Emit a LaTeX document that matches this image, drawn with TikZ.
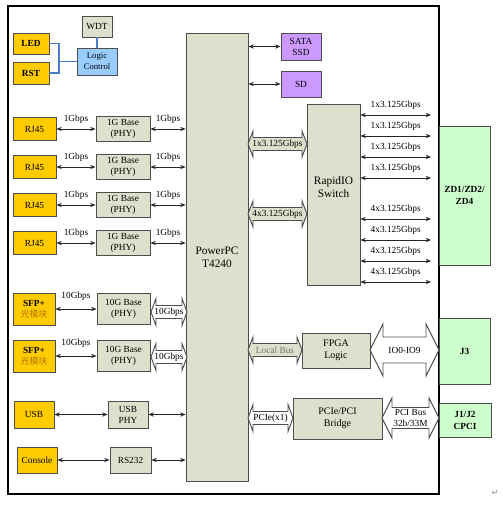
\documentclass[tikz,border=0pt]{standalone}
\usepackage{fontspec}
\setmainfont{Liberation Serif}
\newfontfamily\cjk{Noto Sans CJK SC}
\newfontfamily\dejavu{DejaVu Sans}
\usetikzlibrary{arrows.meta}
\definecolor{boxfill}{HTML}{DDE0CC}
\definecolor{orangefill}{HTML}{FFCC00}
\definecolor{purplefill}{HTML}{CC99FF}
\definecolor{greenfill}{HTML}{CCFFCC}
\definecolor{bluefill}{HTML}{99CCFF}
\definecolor{bluewire}{HTML}{4A7EC8}
\definecolor{edgec}{HTML}{4D4D4D}
\definecolor{cjkc}{HTML}{B07A00}
\newcommand\mkbox[7]{%
  \pgfmathsetmacro\bw{((#4)-(#2))*0.75}%
  \pgfmathsetmacro\bh{((#5)-(#3))*0.75}%
  \node[#6, minimum width=\bw pt, minimum height=\bh pt] (#1) at ({((#2)+(#4))/2},{((#3)+(#5))/2}) {#7};}
\newcommand\fatarrow[9]{%
  \draw[draw=edgec, line width=0.7pt, fill=#8] (#2,#4) -- (#2+#7,#4-#6) -- (#2+#7,#4-#5) -- (#3-#7,#4-#5) -- (#3-#7,#4-#6) -- (#3,#4) -- (#3-#7,#4+#6) -- (#3-#7,#4+#5) -- (#2+#7,#4+#5) -- (#2+#7,#4+#6) -- cycle;
  \node[lbl, align=center] (#1) at ({(#2+#3)/2},#4) {#9};}
\begin{document}
\begin{tikzpicture}[x=0.75pt,y=-0.75pt,
  box/.style={draw=edgec, line width=0.7pt, inner sep=0pt, align=center, font=\fontsize{7}{8.25}\selectfont},
  gbox/.style={box, fill=boxfill},
  obox/.style={box, fill=orangefill},
  obold/.style={obox, font=\fontsize{7}{8.25}\selectfont\bfseries},
  pbox/.style={box, fill=purplefill},
  grbox/.style={box, fill=greenfill, font=\fontsize{7}{9}\selectfont\bfseries},
  bigtxt/.style={font=\fontsize{8.5}{10}\selectfont},
  midtxt/.style={font=\fontsize{7.5}{9}\selectfont},
  conn/.style={draw=black!85, line width=0.6pt, {Stealth[length=4pt,width=3.2pt]}-{Stealth[length=4pt,width=3.2pt]}},
  wire/.style={draw=bluewire, line width=1.1pt},
  lbl/.style={font=\fontsize{7}{8.5}\selectfont, inner sep=0pt}
]
\useasboundingbox (0,0) rectangle (502,509);
% outer frame
\draw[line width=1.1pt] (8,6) rectangle (439,494);

% top-left control
\mkbox{wdt}{82}{16}{112}{37}{gbox}{WDT}
\mkbox{lc}{77}{48}{117}{75}{box, fill=bluefill, font=\fontsize{6.5}{8}\selectfont}{Logic\\Control}
\mkbox{led}{13}{33}{49}{54}{obold}{LED}
\mkbox{rst}{13}{62}{49}{84}{obold}{RST}
\coordinate (jn) at (59,61.5);
\draw[wire] (led.east) -| (jn) |- (rst.east);
\draw[wire] (jn) -- (lc.west);
\draw[wire] (wdt.south) -- (lc.north);

% PowerPC
\mkbox{ppc}{186}{33}{248}{481}{gbox, bigtxt}{PowerPC\\T4240}

% RJ45 rows
\foreach \y [count=\i] in {129,167,205,243} {
  \mkbox{rj\i}{13}{\y-11.5}{56}{\y+11.5}{obox}{RJ45}
  \mkbox{phy\i}{96}{\y-12.5}{150}{\y+12.5}{gbox}{1G Base\\(PHY)}
  \draw[conn] (rj\i) -- (phy\i) node[lbl, midway, above=3.5pt] {1Gbps};
  \draw[conn] (phy\i.east) -- (phy\i.east -| ppc.west) node[lbl, midway, above=3.5pt] {1Gbps};
}

% SFP+ rows
\foreach \y/\fy [count=\i] in {309/312,356/357} {
  \mkbox{sfp\i}{13}{\y-16}{55}{\y+16}{obox}{{\bfseries SFP+}\\{\cjk\fontsize{6.7}{8}\selectfont\color{cjkc}光模块}}
  \mkbox{tphy\i}{97}{\y-15.5}{150}{\y+15.5}{gbox}{10G Base\\(PHY)}
  \draw[conn] (sfp\i) -- (tphy\i) node[lbl, midway, above=6pt] {10Gbps};
  \fatarrow{ften\i}{151}{187}{\fy}{6.5}{13.5}{5}{white}{10Gbps}
}

% USB and console
\mkbox{usb}{14}{401}{54}{428}{obox}{USB}
\mkbox{usbphy}{108}{401}{148}{428}{gbox}{USB\\PHY}
\draw[conn] (usb) -- (usbphy);
\draw[conn] (usbphy.east) -- (usbphy.east -| ppc.west);
\mkbox{con}{17}{447}{57}{473}{obox}{Console}
\mkbox{rs}{110}{447}{151}{473}{gbox}{RS232}
\draw[conn] (con) -- (rs);
\draw[conn] (rs.east) -- (rs.east -| ppc.west);

% storage
\mkbox{sata}{281}{33}{321}{60}{pbox}{SATA\\SSD}
\mkbox{sd}{281}{71}{321}{97}{pbox}{SD}
\draw[conn] (sata.west -| ppc.east) -- (sata.west);
\draw[conn] (sd.west -| ppc.east) -- (sd.west);

% RapidIO switch
\mkbox{rio}{307}{104}{360}{285}{gbox}{}
\node[bigtxt, align=center, inner sep=0pt] (riot) at (333.5,187) {RapidIO\\Switch};
\fatarrow{fone}{248}{307}{144}{6.5}{13}{5}{boxfill}{1x3.125Gbps}
\fatarrow{ffour}{248}{307}{214}{6.5}{13}{5}{boxfill}{4x3.125Gbps}
\coordinate (rend) at (431,0);
\foreach \y/\t in {115/1x,136/1x,157/1x,178/1x,219/4x,240/4x,261/4x,282/4x}
  \draw[conn] (rio.east |- 0,\y) -- (rend |- 0,\y) node[lbl, midway, above=3.5pt] {\t3.125Gbps};

% connectors on the right
\mkbox{zd}{439}{126}{490}{265}{grbox}{ZD1/ZD2/\\ZD4}
\mkbox{jthree}{439}{318}{490}{384}{grbox}{J3}
\mkbox{jcpci}{439}{403}{491}{437}{grbox}{J1/J2\\CPCI}

% FPGA
\mkbox{fpga}{302}{333}{370}{368}{gbox, midtxt}{FPGA\\Logic}
\fatarrow{flb}{248}{302}{350}{6.5}{13}{5}{boxfill}{\color{black!55}Local Bus}
\fatarrow{fio}{370}{439}{350}{13}{26}{13}{white}{IO0-IO9}

% PCIe bridge
\mkbox{bridge}{293}{398}{382}{439}{gbox, midtxt}{PCIe/PCI\\Bridge}
\fatarrow{fpcie}{248}{293}{418}{6.5}{13.5}{5}{white}{PCIe(x1)}
\fatarrow{fpci}{382}{439}{418}{10.5}{20}{10}{white}{PCI Bus\\32b/33M}

% paragraph mark
\node[font=\dejavu\fontsize{6}{7}\selectfont, text=black!45, inner sep=0pt] (pm) at (495,493) {↵};
\end{tikzpicture}
\end{document}
